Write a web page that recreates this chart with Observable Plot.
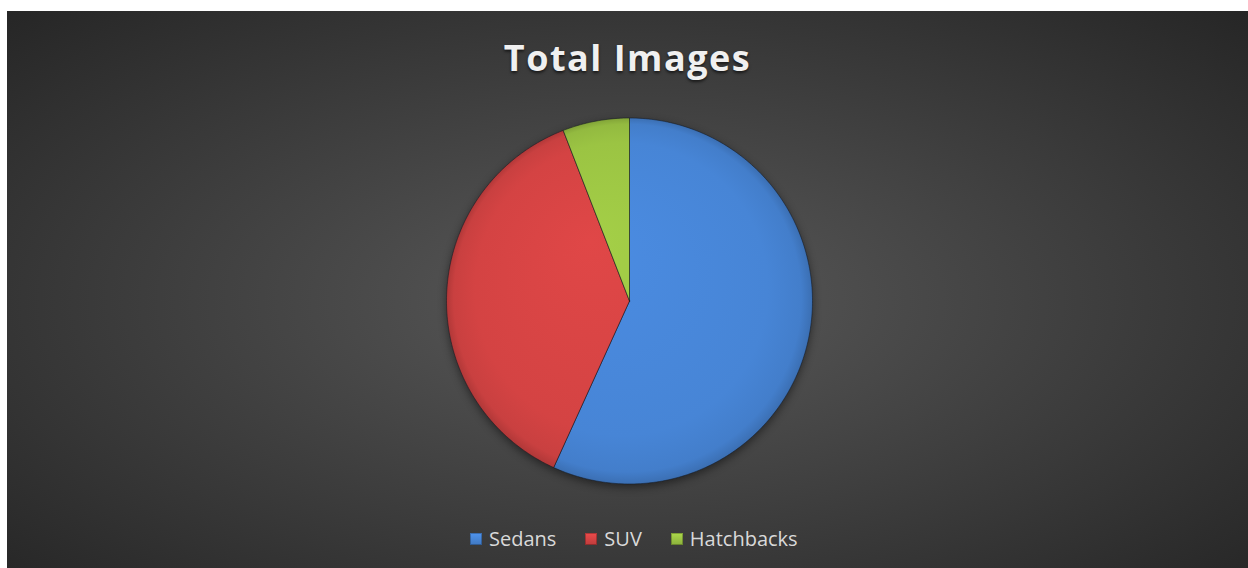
<!DOCTYPE html>
<html>
<head>
<meta charset="utf-8">
<script src="https://cdn.jsdelivr.net/npm/d3@7"></script>
<script src="https://cdn.jsdelivr.net/npm/@observablehq/plot@0.6"></script>
<style>
  html, body { margin: 0; padding: 0; background: #ffffff; }
  #frame {
    position: absolute; left: 7px; top: 11px; width: 1241px; height: 557px;
    background: radial-gradient(ellipse farthest-corner at 50% 52%, #5a5a5a 0%, #4a4a4a 30%, #262626 100%);
    overflow: hidden;
  }
  #title {
    position: absolute; left: 0; width: 100%; top: 25px; text-align: center;
    font-family: "Open Sans", sans-serif; font-weight: 700; font-size: 36px;
    letter-spacing: 1.5px; color: #f0f0f0; line-height: 44px;
    text-shadow: 0 2px 3px rgba(0,0,0,0.6);
  }
  #chart { position: absolute; left: 0; top: 97px; }
  #chart svg g[aria-label="line"] { filter: drop-shadow(0 3px 4px rgba(0,0,0,0.45)); }
  #legend {
    position: absolute; left: 463px; top: 514px; display: flex; align-items: center;
    font-family: "Open Sans", sans-serif; font-size: 20px; color: #d9d9d9; line-height: 28px;
  }
  .item { display: flex; align-items: center; margin-right: 29px; }
  .sw { width: 12px; height: 12px; margin-right: 7px; box-shadow: inset 0 0 0 1px rgba(0,0,0,0.25); }
</style>
</head>
<body>
<div id="frame">
  <div id="title">Total Images</div>
  <div id="chart"></div>
  <div id="legend"></div>
</div>
<script>
const categories = ["Sedans", "SUV", "Hatchbacks"];
const values = [56.8, 37.3, 5.9];
const colors = ["#4785d6", "#d44343", "#9bc443"];
const titleText = "Total Images";

document.getElementById("title").textContent = titleText;

const slices = d3.pie().sort(null).value(d => d.value)(
  categories.map((c, i) => ({cat: c, value: values[i]}))
);

// geometry of each slice outline in unit coordinates (clockwise from 12 o'clock)
const pts = [];
for (const s of slices) {
  const cat = s.data.cat;
  pts.push({cat, x: 0, y: 0});
  const n = Math.max(2, Math.ceil((s.endAngle - s.startAngle) / (Math.PI / 180)));
  for (let k = 0; k <= n; k++) {
    const a = s.startAngle + (s.endAngle - s.startAngle) * k / n;
    pts.push({cat, x: Math.sin(a), y: Math.cos(a)});
  }
  pts.push({cat, x: 0, y: 0});
}

const W = 1241, H = 390, R = 183, CX = 622, CY = 192.5;

const chart = Plot.plot({
  width: W, height: H,
  marginLeft: CX - R, marginRight: W - CX - R,
  marginTop: CY - R, marginBottom: H - CY - R,
  x: {domain: [-1, 1], axis: null},
  y: {domain: [-1, 1], axis: null},
  color: {domain: categories, range: categories.map((c, i) => `url(#grad${i})`)},
  style: {background: "transparent", overflow: "visible"},
  marks: [
    Plot.line(pts, {x: "x", y: "y", z: "cat", fill: "cat", stroke: "rgba(20,25,35,0.55)", strokeWidth: 1, strokeLinejoin: "round"})
  ]
});

// gradients for the slices (bevel-like shading)
const ns = "http://www.w3.org/2000/svg";
const defs = document.createElementNS(ns, "defs");
colors.forEach((c, i) => {
  const g = document.createElementNS(ns, "radialGradient");
  g.setAttribute("id", `grad${i}`);
  g.setAttribute("gradientUnits", "userSpaceOnUse");
  g.setAttribute("cx", CX); g.setAttribute("cy", CY); g.setAttribute("r", R);
  g.setAttribute("fx", CX - 40); g.setAttribute("fy", CY - 60);
  const base = d3.color(c);
  const stops = [
    [0, base.brighter(0.15)],
    [0.8, base],
    [0.95, base.darker(0.15)],
    [1, base.darker(0.5)]
  ];
  for (const [o, col] of stops) {
    const st = document.createElementNS(ns, "stop");
    st.setAttribute("offset", o);
    st.setAttribute("stop-color", col.formatHex());
    g.appendChild(st);
  }
  defs.appendChild(g);
});
chart.insertBefore(defs, chart.firstChild);
document.getElementById("chart").appendChild(chart);

// legend
const legend = document.getElementById("legend");
categories.forEach((c, i) => {
  const item = document.createElement("div");
  item.className = "item";
  const sw = document.createElement("div");
  sw.className = "sw";
  const b = d3.color(colors[i]);
  sw.style.background = `linear-gradient(to bottom, ${b.brighter(0.3).formatHex()}, ${b.darker(0.3).formatHex()})`;
  const t = document.createElement("span");
  t.textContent = c;
  item.appendChild(sw); item.appendChild(t);
  legend.appendChild(item);
});
</script>
</body>
</html>
